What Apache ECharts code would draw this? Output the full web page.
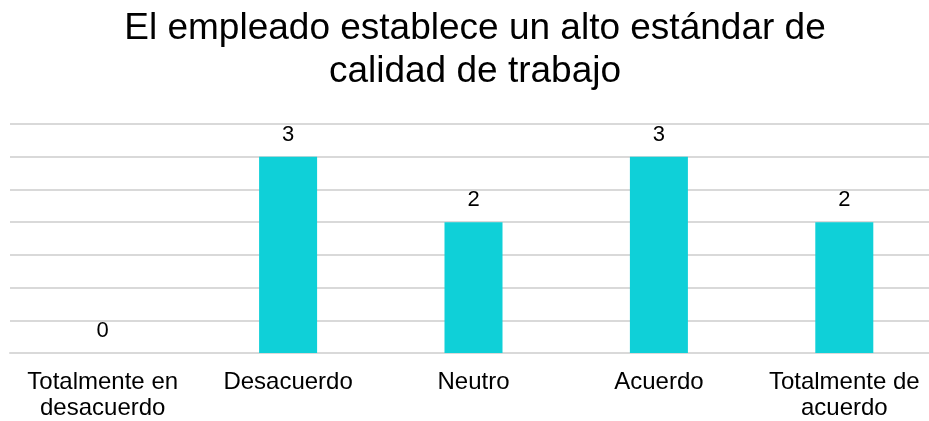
<!DOCTYPE html>
<html>
<head>
<meta charset="utf-8">
<script src="https://cdn.jsdelivr.net/npm/echarts@6/dist/echarts.min.js"></script>
<style>html,body{margin:0;padding:0;background:#fff;overflow:hidden;}#c{width:937px;height:421px;}</style>
</head>
<body>
<div id="c"></div>
<script>
const titleText = "El empleado establece un alto estándar de\ncalidad de trabajo";
const categories = ["Totalmente en\ndesacuerdo", "Desacuerdo", "Neutro", "Acuerdo", "Totalmente de\nacuerdo"];
const values = [0, 3, 2, 3, 2];
const yMin = 0, yMax = 3.5, yInterval = 0.5;

const chart = echarts.init(document.getElementById('c'), null, {renderer: 'canvas'});
chart.setOption({
  animation: false,
  backgroundColor: '#fff',
  title: {
    text: titleText,
    left: 475,
    textAlign: 'center',
    top: 7,
    padding: 0,
    textStyle: {fontFamily: 'Liberation Sans, Arial, sans-serif', fontSize: 37, fontWeight: 'normal', color: '#000', lineHeight: 43}
  },
  grid: {left: 10, right: 0, top: 124, bottom: 67, containLabel: false},
  xAxis: {
    type: 'category',
    data: categories,
    axisLine: {show: true, lineStyle: {color: '#d9d9d9', width: 2}},
    axisTick: {show: false},
    axisLabel: {interval: 0, margin: 16, fontFamily: 'Liberation Sans, Arial, sans-serif', fontSize: 24, color: '#000', lineHeight: 26}
  },
  yAxis: {
    type: 'value',
    min: yMin, max: yMax, interval: yInterval,
    axisLabel: {show: false},
    axisLine: {show: false},
    axisTick: {show: false},
    splitLine: {show: true, lineStyle: {color: '#d9d9d9', width: 2}}
  },
  series: [{
    type: 'bar',
    data: values,
    barWidth: 58,
    itemStyle: {color: '#0fd0d8'},
    label: {show: true, position: 'top', distance: 11, fontFamily: 'Liberation Sans, Arial, sans-serif', fontSize: 22, color: '#000'}
  }]
});
</script>
</body>
</html>
